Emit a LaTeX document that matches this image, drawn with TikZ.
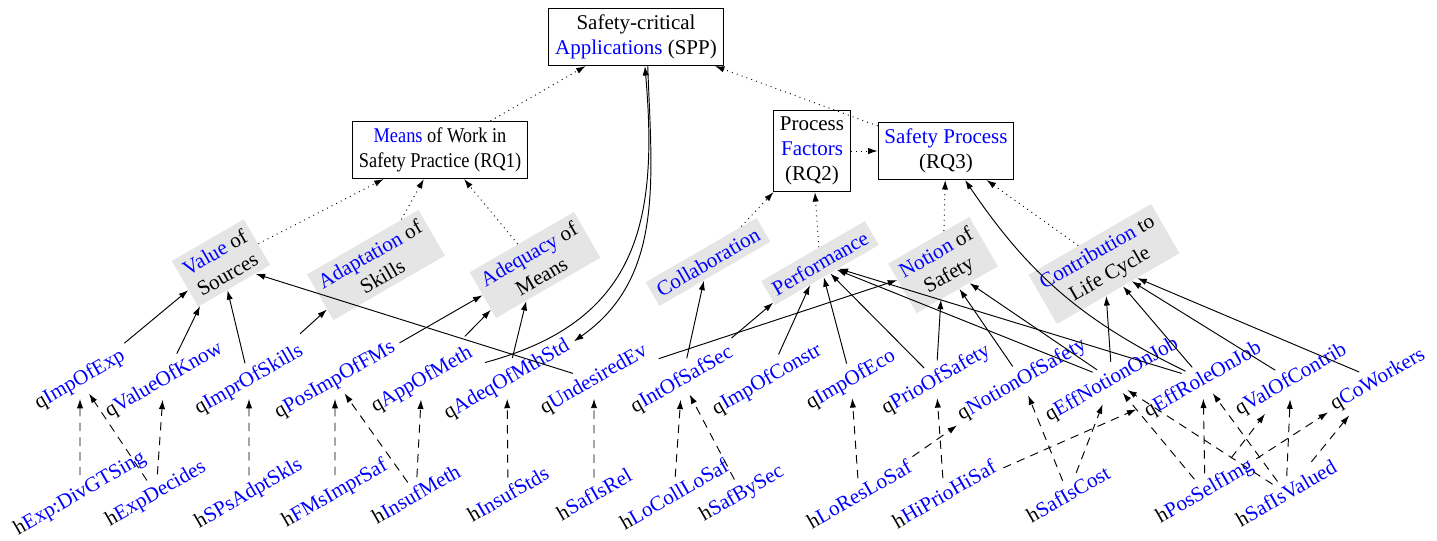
\documentclass[tikz,border=0pt]{standalone}
\usepackage{graphicx}
\usepackage{fontspec}
\setmainfont{Liberation Serif}
\usetikzlibrary{arrows.meta}
\newcommand{\bluet}[1]{\textcolor{blue}{#1}}
\newcommand{\narrowtxt}[1]{\scalebox{0.875}[1]{#1}}
\begin{document}
\begin{tikzpicture}[x=0.47619pt,y=0.47619pt,
  topbox/.style={draw, align=center, inner sep=3pt, line width=0.5pt},
  catbox/.style={fill=gray!20, rotate=30, align=center, inner sep=3pt},
  leaf/.style={rotate=30, inner sep=3pt},
  solidarr/.style={-{Latex[length=4.5pt,width=3pt]}, line width=0.45pt},
  dotarr/.style={solidarr, dotted},
  dasharr/.style={solidarr, dash pattern=on 4pt off 3pt},
]
\useasboundingbox (0,0) rectangle (1437,540);
% top boxes
\node[topbox] (SPP) at (636,503) {Safety-critical\\\bluet{Applications} (SPP)};
\node[topbox] (RQ1) at (440,390) {\narrowtxt{\bluet{Means} of Work in}\\\narrowtxt{Safety Practice (RQ1)}};
\node[topbox] (RQ2) at (812,389) {Process\\\bluet{Factors}\\(RQ2)};
\node[topbox] (RQ3) at (946,389) {\bluet{Safety Process}\\(RQ3)};
% categories
\node[catbox] (VoS) at (221,277) {\bluet{Value} of\\Sources};
\node[catbox] (Adapt) at (376,275) {\bluet{Adaptation} of\\Skills};
\node[catbox] (Adeq) at (535,275) {\bluet{Adequacy} of\\Means};
\node[catbox] (Collab) at (708,278) {\bluet{Collaboration}};
\node[catbox] (Perf) at (820,277) {\bluet{Performance}};
\node[catbox] (Notion) at (943,275) {\bluet{Notion} of\\Safety};
\node[catbox] (Contrib) at (1104,276) {\bluet{Contribution} to\\Life Cycle};
% q row
\node[leaf] (qImpOfExp) at (80,160) {q\bluet{ImpOfExp}};
\node[leaf] (qValueOfKnow) at (164,160) {q\bluet{ValueOfKnow}};
\node[leaf] (qImprOfSkills) at (249,160) {q\bluet{ImprOfSkills}};
\node[leaf] (qPosImpOfFMs) at (335,160) {q\bluet{PosImpOfFMs}};
\node[leaf] (qAppOfMeth) at (422,160) {q\bluet{AppOfMeth}};
\node[leaf] (qAdeqOfMthStd) at (507,160) {q\bluet{AdeqOfMthStd}};
\node[leaf] (qUndesiredEv) at (594,160) {q\bluet{UndesiredEv}};
\node[leaf] (qIntOfSafSec) at (682,160) {q\bluet{IntOfSafSec}};
\node[leaf] (qImpOfConstr) at (767,160) {q\bluet{ImpOfConstr}};
\node[leaf] (qImpOfEco) at (851,160) {q\bluet{ImpOfEco}};
\node[leaf] (qPrioOfSafety) at (936,160) {q\bluet{PrioOfSafety}};
\node[leaf] (qNotionOfSafety) at (1022,160) {q\bluet{NotionOfSafety}};
\node[leaf] (qEffNotionOnJob) at (1112,160) {q\bluet{EffNotionOnJob}};
\node[leaf] (qEffRoleOnJob) at (1203,160) {q\bluet{EffRoleOnJob}};
\node[leaf] (qValOfContrib) at (1291,160) {q\bluet{ValOfContrib}};
\node[leaf] (qCoWorkers) at (1378,160) {q\bluet{CoWorkers}};
% h row
\node[leaf] (hExpDivGTSing) at (80,46) {h\bluet{Exp:DivGTSing}};
\node[leaf] (hExpDecides) at (156,46) {h\bluet{ExpDecides}};
\node[leaf] (hSPsAdptSkls) at (249,46) {h\bluet{SPsAdptSkls}};
\node[leaf] (hFMsImprSaf) at (335,46) {h\bluet{FMsImprSaf}};
\node[leaf] (hInsufMeth) at (416,46) {h\bluet{InsufMeth}};
\node[leaf] (hInsufStds) at (508,46) {h\bluet{InsufStds}};
\node[leaf] (hSafIsRel) at (594,46) {h\bluet{SafIsRel}};
\node[leaf] (hLoCollLoSaf) at (674,46) {h\bluet{LoCollLoSaf}};
\node[leaf] (hSafBySec) at (742,46) {h\bluet{SafBySec}};
\node[leaf] (hLoResLoSaf) at (859,46) {h\bluet{LoResLoSaf}};
\node[leaf] (hHiPrioHiSaf) at (944,46) {h\bluet{HiPrioHiSaf}};
\node[leaf] (hSafIsCost) at (1068,46) {h\bluet{SafIsCost}};
\node[leaf] (hPosSelfImg) at (1205,48) {h\bluet{PosSelfImg}};
\node[leaf] (hSafIsValued) at (1286,47) {h\bluet{SafIsValued}};
% dotted to top boxes
\draw[dotarr] (VoS) -- (RQ1);
\draw[dotarr] (Adapt) -- (RQ1);
\draw[dotarr] (Adeq) -- (RQ1);
\draw[dotarr] (Collab) -- (RQ2);
\draw[dotarr] (Perf) -- (RQ2);
\draw[dotarr] (Notion) -- (RQ3);
\draw[dotarr] (Contrib) -- (RQ3);
\draw[dotarr] (RQ1) -- (SPP);
\draw[dotarr] (RQ3) -- (SPP);
\draw[dotarr] (RQ2) -- (RQ3);
% solid q -> categories
\draw[solidarr] (qImpOfExp) -- (VoS);
\draw[solidarr] (qValueOfKnow) -- (VoS);
\draw[solidarr] (qImprOfSkills) -- (VoS);
\draw[solidarr] (qUndesiredEv) -- (VoS);
\draw[solidarr] (qImprOfSkills) -- (Adapt);
\draw[solidarr] (qPosImpOfFMs) -- (Adeq);
\draw[solidarr] (qAppOfMeth) -- (Adeq);
\draw[solidarr] (qAdeqOfMthStd) -- (Adeq);
\draw[solidarr] (qIntOfSafSec) -- (Collab);
\draw[solidarr] (qIntOfSafSec) -- (Perf);
\draw[solidarr] (qImpOfConstr) -- (Perf);
\draw[solidarr] (qImpOfEco) -- (Perf);
\draw[solidarr] (qPrioOfSafety) -- (Perf);
\draw[solidarr] (qEffNotionOnJob) -- (Perf);
\draw[solidarr] (qEffRoleOnJob) -- (Perf);
\draw[solidarr] (qUndesiredEv) -- (Notion);
\draw[solidarr] (qPrioOfSafety) -- (Notion);
\draw[solidarr] (qNotionOfSafety) -- (Notion);
\draw[solidarr] (qEffNotionOnJob) -- (Notion);
\draw[solidarr] (qEffNotionOnJob) -- (Contrib);
\draw[solidarr] (qEffRoleOnJob) -- (Contrib);
\draw[solidarr] (qValOfContrib) -- (Contrib);
\draw[solidarr] (qCoWorkers) -- (Contrib);
% curves
\draw[solidarr] (qAppOfMeth.south east) to[out=15,in=-85,looseness=1.2] (SPP.-73);
\draw[solidarr] (SPP.-68) to[out=-88,in=35] (qAdeqOfMthStd.east);
\draw[solidarr] (qEffRoleOnJob) to[bend left=15] (RQ3);
% dashed h -> q
\draw[dasharr] (hExpDivGTSing) -- (qImpOfExp);
\draw[dasharr] (hExpDecides) -- (qImpOfExp);
\draw[dasharr] (hExpDecides) -- (qValueOfKnow);
\draw[dasharr] (hSPsAdptSkls) -- (qImprOfSkills);
\draw[dasharr] (hFMsImprSaf) -- (qPosImpOfFMs);
\draw[dasharr] (hInsufMeth) -- (qPosImpOfFMs);
\draw[dasharr] (hInsufMeth) -- (qAppOfMeth);
\draw[dasharr] (hInsufStds) -- (qAdeqOfMthStd);
\draw[dasharr] (hSafIsRel) -- (qUndesiredEv);
\draw[dasharr] (hLoCollLoSaf) -- (qIntOfSafSec);
\draw[dasharr] (hSafBySec) -- (qIntOfSafSec);
\draw[dasharr] (hLoResLoSaf) -- (qImpOfEco);
\draw[dasharr] (hLoResLoSaf) -- (qNotionOfSafety);
\draw[dasharr] (hHiPrioHiSaf) -- (qPrioOfSafety);
\draw[dasharr] (hHiPrioHiSaf) -- (qEffRoleOnJob);
\draw[dasharr] (hSafIsCost) -- (qNotionOfSafety);
\draw[dasharr] (hSafIsCost) -- (qEffNotionOnJob);
\draw[dasharr] (hPosSelfImg) -- (qEffNotionOnJob);
\draw[dasharr] (hPosSelfImg) -- (qEffRoleOnJob);
\draw[dasharr] (hPosSelfImg) -- (qValOfContrib);
\draw[dasharr] (hPosSelfImg) -- (qCoWorkers);
\draw[dasharr] (hSafIsValued) -- (qEffNotionOnJob);
\draw[dasharr] (hSafIsValued) -- (qEffRoleOnJob);
\draw[dasharr] (hSafIsValued) -- (qValOfContrib);
\draw[dasharr] (hSafIsValued) -- (qCoWorkers);
\end{tikzpicture}
\end{document}
